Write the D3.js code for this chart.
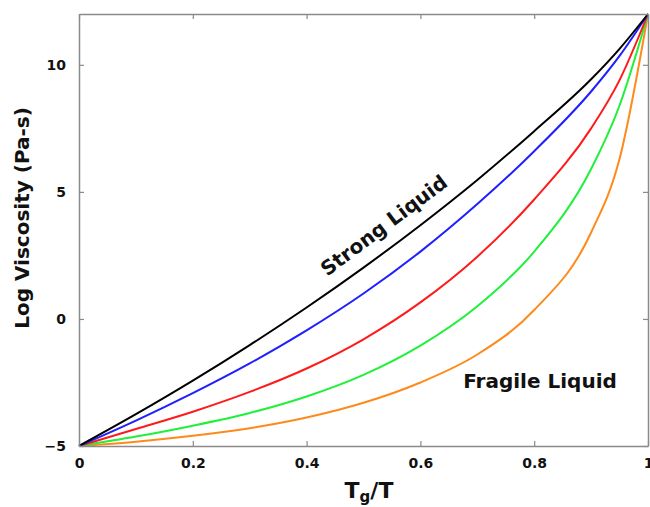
<!DOCTYPE html>
<html>
<head>
<meta charset="utf-8">
<script src="https://d3js.org/d3.v7.min.js"></script>
<style>
  body { margin: 0; background: #fff; }
  text { font-family: "DejaVu Sans", Verdana, sans-serif; font-weight: bold; fill: #111; }
</style>
</head>
<body>
<div id="chart"></div>
<script>
var width = 650, height = 507;
var margin = {left: 79, right: 2, top: 14, bottom: 61};

// Tg/T sample points
var tgT = [0, 0.1, 0.2, 0.3, 0.4, 0.5, 0.6, 0.7, 0.8, 0.9, 0.95, 1];
// log viscosity for each liquid, strong -> fragile
var blackVals  = [-5, -3.75, -2.43, -1.03, 0.45, 2.02, 3.69, 5.47, 7.39, 9.43, 10.63, 12];
var blueVals   = [-5, -4.0, -2.92, -1.75, -0.45, 1.0, 2.65, 4.52, 6.6, 8.95, 10.35, 12];
var redVals    = [-5, -4.33, -3.65, -2.87, -1.95, -0.8, 0.65, 2.45, 4.7, 7.5, 9.4, 12];
var greenVals  = [-5, -4.63, -4.2, -3.7, -3.05, -2.2, -1.05, 0.5, 2.65, 5.9, 8.4, 12];
var orangeVals = [-5, -4.83, -4.6, -4.3, -3.88, -3.3, -2.5, -1.4, 0.35, 3.4, 6.3, 12];

var xTicks = [0, 0.2, 0.4, 0.6, 0.8, 1];
var yTicks = [-5, 0, 5, 10];

var series = [
  {vals: orangeVals, color: "#ff8a1c"},
  {vals: greenVals, color: "#1ff03a"},
  {vals: redVals, color: "#ff1a1a"},
  {vals: blueVals, color: "#1f1fff"},
  {vals: blackVals, color: "#000000"}
];

var svg = d3.select("#chart").append("svg").attr("width", width).attr("height", height);

var x = d3.scaleLinear().domain([0, 1]).range([margin.left, width - margin.right]);
var y = d3.scaleLinear().domain([-5, 12]).range([height - margin.bottom, margin.top]);

var line = d3.line()
  .x(function(d, i) { return x(tgT[i]); })
  .y(function(d) { return y(d); })
  .curve(d3.curveMonotoneX);

svg.selectAll("path.curve")
  .data(series)
  .enter()
  .append("path")
  .attr("class", "curve")
  .attr("fill", "none")
  .attr("stroke", function(d) { return d.color; })
  .attr("stroke-width", 2)
  .attr("d", function(d) { return line(d.vals); });

// axes frame with inward ticks on all four sides
function styleAxis(g) {
  g.selectAll("path.domain").attr("stroke", "#8a8a8a").attr("stroke-width", 1.5);
  g.selectAll(".tick line").attr("stroke", "#8a8a8a").attr("stroke-width", 1.2);
}

svg.append("g")
  .attr("transform", "translate(0," + y(-5) + ")")
  .call(d3.axisBottom(x).tickValues(xTicks).tickSizeInner(-5).tickSizeOuter(0).tickPadding(12)
        .tickFormat(function(d) { return d === 0 || d === 1 ? d : d3.format(".1f")(d); }))
  .call(styleAxis)
  .selectAll("text").style("font-size", "14px").attr("fill", "#111");

svg.append("g")
  .attr("transform", "translate(0," + y(12) + ")")
  .call(d3.axisTop(x).tickValues(xTicks).tickSizeInner(-5).tickSizeOuter(0).tickFormat(""))
  .call(styleAxis);

svg.append("g")
  .attr("transform", "translate(" + x(0) + ",0)")
  .call(d3.axisLeft(y).tickValues(yTicks).tickSizeInner(-5).tickSizeOuter(0).tickPadding(13))
  .call(styleAxis)
  .selectAll("text").style("font-size", "14px").attr("fill", "#111");

svg.append("g")
  .attr("transform", "translate(" + x(1) + ",0)")
  .call(d3.axisRight(y).tickValues(yTicks).tickSizeInner(-5).tickSizeOuter(0).tickFormat(""))
  .call(styleAxis);

// axis titles
svg.append("text")
  .attr("transform", "translate(29,218) rotate(-90)")
  .attr("text-anchor", "middle")
  .style("font-size", "20px")
  .text("Log Viscosity (Pa-s)");

var xt = svg.append("text")
  .attr("x", 369).attr("y", 498)
  .attr("text-anchor", "middle")
  .style("font-size", "22px");
xt.append("tspan").text("T");
xt.append("tspan").attr("dy", 4).style("font-size", "15px").text("g");
xt.append("tspan").attr("dy", -4).text("/T");

// curve labels
svg.append("text")
  .attr("transform", "translate(388,231) rotate(-37)")
  .attr("text-anchor", "middle")
  .style("font-size", "20px")
  .text("Strong Liquid");

svg.append("text")
  .attr("x", 540).attr("y", 388)
  .attr("text-anchor", "middle")
  .style("font-size", "20px")
  .text("Fragile Liquid");
</script>
</body>
</html>
